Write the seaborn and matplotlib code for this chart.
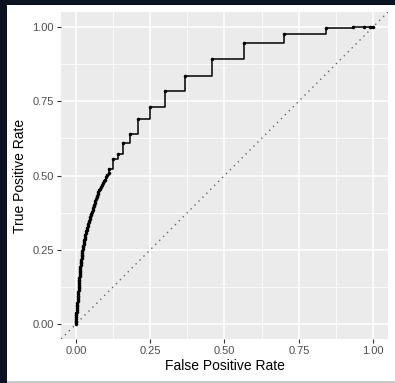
import matplotlib
matplotlib.use("Agg")
import matplotlib.pyplot as plt
import matplotlib.patches as mpatches
import seaborn as sns
import pandas as pd
import numpy as np

# ROC curve points
fpr = [0.000, 0.000, 0.000, 0.001, 0.001, 0.002, 0.002, 0.003, 0.003, 0.004,
       0.004, 0.005, 0.005, 0.006, 0.006, 0.007, 0.007, 0.008, 0.008, 0.009,
       0.009, 0.010, 0.010, 0.011, 0.011, 0.012, 0.012, 0.013, 0.013, 0.014,
       0.014, 0.015, 0.015, 0.016, 0.016, 0.017, 0.018, 0.019, 0.019, 0.020,
       0.021, 0.022, 0.023, 0.024, 0.025, 0.026, 0.027, 0.028, 0.030, 0.031,
       0.032, 0.034, 0.035, 0.037, 0.038, 0.040, 0.041, 0.043, 0.045, 0.046,
       0.048, 0.050, 0.052, 0.054, 0.056, 0.058, 0.060, 0.062, 0.064, 0.066,
       0.068, 0.070, 0.072, 0.074, 0.076, 0.078, 0.081, 0.084, 0.087, 0.090,
       0.093, 0.097, 0.101, 0.106, 0.110, 0.113,
       0.124, 0.142, 0.159, 0.183, 0.210, 0.250, 0.300, 0.368, 0.457, 0.567,
       0.700, 0.841, 0.931, 0.969, 0.991, 1.000]
tpr = [0.000, 0.006, 0.012, 0.018, 0.024, 0.030, 0.036, 0.042, 0.048, 0.054,
       0.060, 0.066, 0.072, 0.078, 0.084, 0.090, 0.096, 0.102, 0.108, 0.114,
       0.120, 0.126, 0.132, 0.138, 0.144, 0.150, 0.156, 0.162, 0.168, 0.174,
       0.180, 0.186, 0.192, 0.198, 0.204, 0.210, 0.216, 0.222, 0.228, 0.234,
       0.240, 0.246, 0.252, 0.258, 0.264, 0.270, 0.276, 0.282, 0.288, 0.294,
       0.300, 0.306, 0.312, 0.318, 0.324, 0.330, 0.336, 0.342, 0.348, 0.354,
       0.360, 0.366, 0.372, 0.378, 0.384, 0.390, 0.396, 0.402, 0.408, 0.414,
       0.420, 0.426, 0.432, 0.438, 0.444, 0.450, 0.456, 0.462, 0.468, 0.474,
       0.480, 0.486, 0.494, 0.502, 0.510, 0.522,
       0.555, 0.572, 0.608, 0.638, 0.689, 0.731, 0.784, 0.834, 0.892, 0.945,
       0.976, 0.996, 1.000, 1.000, 1.000, 1.000]

x_ticks = [0.00, 0.25, 0.50, 0.75, 1.00]
y_ticks = [0.00, 0.25, 0.50, 0.75, 1.00]
x_tick_labels = ["0.00", "0.25", "0.50", "0.75", "1.00"]
y_tick_labels = ["0.00", "0.25", "0.50", "0.75", "1.00"]

df = pd.DataFrame({"fpr": fpr, "tpr": tpr})

plt.rcParams['font.family'] = ['Liberation Sans', 'DejaVu Sans']

W, H = 395, 383
fig = plt.figure(figsize=(W / 100, H / 100), dpi=100, facecolor="#0b1220")
# white plot card and light bottom strip
fig.patches.append(mpatches.Rectangle((7 / W, 2 / H), 1 - 7 / W, (381 - 5) / H,
                                      transform=fig.transFigure, facecolor="white",
                                      edgecolor="none", zorder=-10))
fig.patches.append(mpatches.Rectangle((7 / W, 0), 1 - 7 / W, 2 / H,
                                      transform=fig.transFigure, facecolor="#c8c8c8",
                                      edgecolor="none", zorder=-10))

ax = fig.add_axes([61 / W, (H - 339) / H, (388 - 61) / W, (339 - 12) / H])
ax.set_facecolor("#EBEBEB")
for s in ax.spines.values():
    s.set_visible(False)

ax.set_xlim(-0.05, 1.05)
ax.set_ylim(-0.05, 1.05)
ax.set_xticks(x_ticks)
ax.set_xticklabels(x_tick_labels)
ax.set_yticks(y_ticks)
ax.set_yticklabels(y_tick_labels)
ax.set_xticks([0.125, 0.375, 0.625, 0.875], minor=True)
ax.set_yticks([0.125, 0.375, 0.625, 0.875], minor=True)
ax.grid(True, which="major", color="white", linewidth=1.1)
ax.grid(True, which="minor", color="white", linewidth=0.55)
ax.set_axisbelow(True)
ax.tick_params(which="major", length=3, width=0.8, color="#333333",
               labelsize=8, labelcolor="#4D4D4D", pad=2)
ax.tick_params(which="minor", length=0)

# diagonal reference
ax.plot([-0.05, 1.05], [-0.05, 1.05], linestyle=(0, (1, 3)), color="#666666",
        linewidth=1.0, zorder=2)

sns.lineplot(data=df, x="fpr", y="tpr", ax=ax, estimator=None, sort=False,
             drawstyle="steps-post", color="black", linewidth=1.1, zorder=3)
sns.scatterplot(data=df, x="fpr", y="tpr", ax=ax, color="black", s=5,
                marker="o", edgecolor="black", linewidth=0.3, zorder=4)

ax.set_xlabel("False Positive Rate", fontsize=10, color="black", labelpad=2)
ax.set_ylabel("True Positive Rate", fontsize=10, color="black", labelpad=4)

fig.savefig("out.png", dpi=100, facecolor=fig.get_facecolor())
